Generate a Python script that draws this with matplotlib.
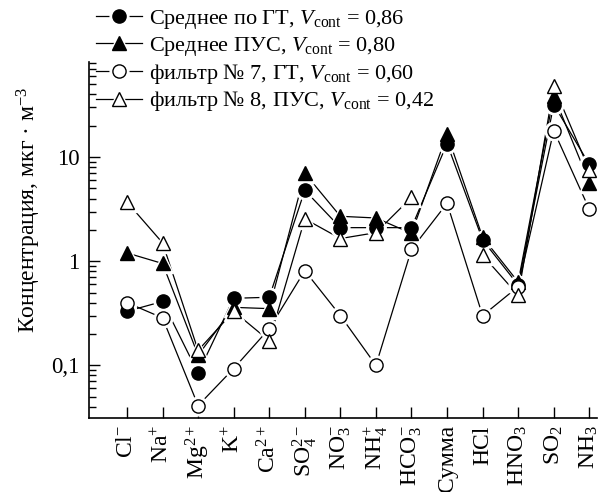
import numpy as np
import matplotlib
matplotlib.use("Agg")
from matplotlib import pyplot as plt
from matplotlib.lines import Line2D
from matplotlib.legend_handler import HandlerTuple

plt.rcParams["font.family"] = ["Liberation Serif", "DejaVu Serif"]
plt.rcParams["mathtext.fontset"] = "custom"
plt.rcParams["mathtext.rm"] = "Liberation Serif"
plt.rcParams["mathtext.it"] = "Liberation Serif:italic"
plt.rcParams["font.size"] = 16

# categories on the x axis
labels = [r"$\mathrm{Cl}^{-}$", r"$\mathrm{Na}^{+}$", r"$\mathrm{Mg}^{2+}$", r"$\mathrm{K}^{+}$",
          r"$\mathrm{Ca}^{2+}$", r"$\mathrm{SO}_4^{2-}$", r"$\mathrm{NO}_3^{-}$", r"$\mathrm{NH}_4^{+}$",
          r"$\mathrm{HCO}_3^{-}$", "Сумма", "HCl", r"$\mathrm{HNO}_3$", r"$\mathrm{SO}_2$", r"$\mathrm{NH}_3$"]

# concentrations, mkg/m3
avg_gt = [0.33, 0.41, 0.084, 0.44, 0.45, 4.8, 2.1, 2.1, 2.1, 13.5, 1.6, 0.59, 32, 8.5]
avg_pus = [1.2, 0.95, 0.125, 0.36, 0.35, 7.0, 2.7, 2.6, 1.85, 16.6, 1.7, 0.63, 39, 5.7]
filt7 = [0.40, 0.285, 0.041, 0.093, 0.225, 0.81, 0.30, 0.10, 1.3, 3.6, 0.30, 0.57, 18, 3.15]
filt8 = [3.7, 1.5, 0.139, 0.33, 0.172, 2.55, 1.65, 1.88, 4.1, np.nan, 1.14, 0.47, 48, 7.5]

names = ["Среднее по ГТ, $V_{\\rm cont}$ = 0,86",
         "Среднее ПУС, $V_{\\rm cont}$ = 0,80",
         "фильтр № 7, ГТ, $V_{\\rm cont}$ = 0,60",
         "фильтр № 8, ПУС, $V_{\\rm cont}$ = 0,42"]

x = np.arange(len(labels))

fig = plt.figure(figsize=(6.05, 4.92), dpi=100)
ax = fig.add_axes([0.147, 0.150, 0.840, 0.724])

series = [(avg_gt, "o", "black"), (avg_pus, "^", "black"), (filt7, "o", "white"), (filt8, "^", "white")]
ms = {"o": 9.5, "^": 10}
handles = []
for y, m, fc in series:
    ax.plot(x, y, color="black", lw=0.9, zorder=1)
for y, m, fc in series:
    ax.plot(x, y, ls="none", marker=m, ms=ms[m] + 4, mfc="white", mec="white", zorder=2)
    ax.plot(x, y, ls="none", marker=m, ms=ms[m], mfc=fc, mec="black", mew=1.0, zorder=3)
    h_line = Line2D([], [], color="black", lw=0.9)
    h_halo = Line2D([], [], ls="none", marker=m, ms=ms[m] + 4, mfc="white", mec="white")
    h_mark = Line2D([], [], ls="none", marker=m, ms=ms[m], mfc=fc, mec="black", mew=1.0)
    handles.append((h_line, h_halo, h_mark))

ax.set_yscale("log")
ax.set_ylim(0.031, 82)
ax.set_xlim(-1.07, 13.22)
ax.set_yticks([0.1, 1, 10])
ax.set_yticklabels(["0,1", "1", "10"], fontsize=16.5)
ax.yaxis.set_minor_formatter(plt.NullFormatter())
ax.set_xticks(x)
ax.set_xticklabels(labels, rotation=90, fontsize=17)
ax.tick_params(axis="both", which="major", direction="in", length=8, width=1)
ax.tick_params(axis="y", which="minor", direction="in", length=5, width=1)
ax.tick_params(axis="y", pad=7)
ax.tick_params(axis="x", pad=5)
ax.spines["top"].set_visible(False)
ax.spines["right"].set_visible(False)
ax.spines["left"].set_linewidth(1.2)
ax.spines["bottom"].set_linewidth(1.2)

ax.set_ylabel("Концентрация, мкг · м$^{-3}$", fontsize=17)
ax.yaxis.set_label_coords(-0.09, 0.584)

fig.legend(handles, names, handler_map={tuple: HandlerTuple(ndivide=1)},
           loc="upper left", bbox_to_anchor=(96 / 605, 1 - 8 / 492), frameon=False,
           borderpad=0, borderaxespad=0, handlelength=2.05, handletextpad=0.35,
           labelspacing=0.17)

plt.savefig("out.png", dpi=100)
